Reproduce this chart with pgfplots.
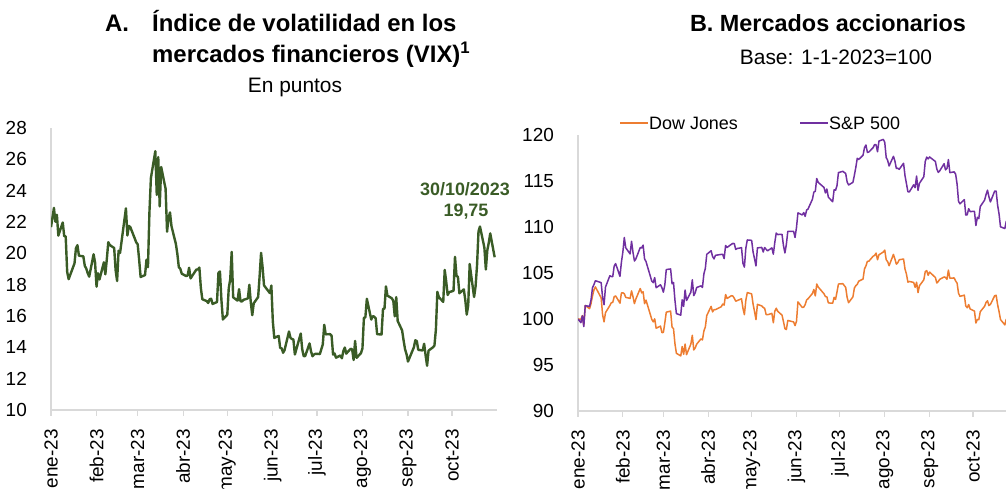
\documentclass[border=0pt]{standalone}
\usepackage{pgfplots}
\pgfplotsset{compat=1.18}
\usepackage{fontspec}
\setmainfont{Liberation Sans}
\definecolor{vixgreen}{RGB}{58,92,38}
\definecolor{djorange}{RGB}{237,125,49}
\definecolor{sppurple}{RGB}{112,48,160}
\definecolor{axgray}{RGB}{217,217,217}
\pgfplotsset{
  panel/.style={
    scale only axis,
    anchor=south west,
    axis x line*=bottom,
    axis y line*=left,
    axis line style={-, draw=axgray, line width=1.3bp},
    xtick={0,31,59,90,120,151,181,212,243,273},
    xticklabels={ene-23,feb-23,mar-23,abr-23,may-23,jun-23,jul-23,ago-23,sep-23,oct-23},
    xtick style={draw=axgray, line width=1.2bp},
    tick align=outside,
    major tick length=6bp,
    ytick style={draw=none},
    xticklabel style={font=\fontsize{19}{22}\selectfont, yshift=-13bp, rotate=90, anchor=east, inner sep=0pt},
    yticklabel style={font=\fontsize{19}{22}\selectfont, anchor=east, inner sep=0pt, xshift=-18bp},
    /pgf/number format/assume math mode=true,
    /pgf/number format/use comma,
  }
}
\begin{document}
\begin{tikzpicture}[x=1bp,y=1bp]
\useasboundingbox (0,0) rectangle (1006,489);
% ---------------- Panel A ----------------
\begin{axis}[panel,
  at={(51bp,79bp)}, width=446bp, height=282bp,
  xmin=0, xmax=303.6, ymin=10, ymax=28,
  ytick={10,12,...,28},
]
\addplot[vixgreen, line width=2.4bp, line join=round] coordinates {
(0,21.67)(2,22.90)(3,22.01)(4,22.46)(5,21.13)(8,21.97)(9,21.09)(10,21.09)(11,18.83)(12,18.35)
(16,19.36)(17,20.34)(18,20.52)(19,19.85)(22,19.81)(23,19.20)(24,19.03)(25,18.73)(26,18.51)
(29,19.94)(30,19.40)(31,17.87)(32,18.73)(33,18.33)(36,19.43)(37,18.66)(38,19.63)(39,20.71)
(40,20.53)(43,20.34)(44,18.91)(45,18.23)(46,20.17)(47,20.02)(51,22.87)(52,21.14)(53,21.75)
(54,21.67)(57,20.95)(58,20.70)(59,20.58)(60,19.59)(61,18.49)(64,18.61)(65,19.59)(66,19.11)
(67,22.61)(68,24.80)(71,26.52)(72,23.73)(73,26.14)(74,22.99)(75,25.51)(78,24.12)(79,21.38)
(80,22.26)(81,22.61)(82,21.74)(85,20.60)(86,19.97)(87,19.12)(88,19.02)(89,18.70)(92,18.55)
(93,18.58)(94,19.08)(95,18.40)(99,18.97)(100,18.97)(101,19.09)(102,17.80)(103,17.07)
(106,16.95)(107,16.83)(108,17.07)(109,17.10)(110,16.77)(113,16.89)(114,18.76)(115,18.84)
(116,17.03)(117,15.78)(120,16.08)(121,17.78)(122,18.34)(123,20.09)(124,17.19)(127,16.98)
(128,17.71)(129,16.94)(130,16.93)(131,17.03)(134,17.12)(135,17.99)(136,16.87)(137,16.05)
(138,16.81)(141,17.21)(142,18.53)(143,20.03)(144,19.14)(145,17.95)(149,17.46)(150,17.94)
(151,15.65)(152,14.60)(155,14.73)(156,13.96)(157,13.94)(158,13.65)(159,13.83)(162,15.01)
(163,14.61)(164,14.53)(165,14.50)(166,13.54)(170,14.88)(171,13.88)(172,13.44)(173,13.44)
(176,14.25)(177,13.74)(178,13.43)(179,13.54)(180,13.59)(183,13.57)(185,14.18)(186,15.44)
(187,14.83)(190,14.84)(191,14.74)(192,13.54)(193,13.61)(194,13.34)(197,13.48)(198,13.30)
(199,13.76)(200,13.99)(201,13.60)(204,13.91)(205,13.86)(206,13.19)(207,14.41)(208,13.33)
(211,13.63)(212,13.93)(213,15.88)(214,15.92)(215,17.10)(218,15.77)(219,15.99)(220,15.96)
(221,15.85)(222,14.84)(225,14.82)(226,16.46)(227,16.46)(228,17.89)(229,17.30)(232,17.13)
(233,16.97)(234,15.98)(235,17.20)(236,15.68)(239,15.08)(240,14.45)(241,13.88)(242,13.57)
(243,13.09)(247,14.00)(248,14.45)(249,14.40)(250,13.84)(253,13.80)(254,14.23)(255,13.48)
(256,12.82)(257,13.79)(260,14.00)(261,14.11)(262,15.14)(263,17.54)(264,17.20)(267,16.90)
(268,18.94)(269,18.22)(270,17.34)(271,17.52)(274,17.61)(275,19.78)(276,18.58)(277,18.49)
(278,17.45)(281,17.70)(282,17.03)(283,16.09)(284,16.69)(285,19.32)(288,17.21)(289,17.88)
(290,19.22)(291,21.40)(292,21.71)(295,20.37)(296,18.97)(297,20.19)(298,20.68)(299,21.27)
(302,19.75)
};
\end{axis}
% ---------------- Panel B ----------------
\begin{axis}[panel,
  at={(578bp,78bp)}, width=438.4bp, height=276bp,
  xmin=0, xmax=303, ymin=90, ymax=120,
  ytick={90,95,...,120},
]
\addplot[djorange, line width=1.5bp, line join=round] coordinates {
(0,100)(2,99.97)(3,100.37)(4,99.34)(5,101.46)(8,101.12)(9,101.68)(10,102.49)(11,103.15)(12,103.49)
(16,102.30)(17,100.45)(18,99.69)(19,100.69)(22,101.46)(23,101.77)(24,101.80)(25,102.42)(26,102.51)
(29,101.72)(30,102.83)(31,102.85)(32,102.74)(33,102.35)(36,102.24)(37,103.05)(38,102.42)(39,101.67)
(40,102.18)(43,103.31)(44,102.84)(45,102.96)(46,101.66)(47,102.05)(51,99.95)(52,99.69)(53,100.02)
(54,99.00)(57,99.22)(58,98.52)(59,98.54)(60,99.57)(61,100.74)(64,100.86)(65,99.12)(66,98.95)
(67,97.31)(68,96.27)(71,95.99)(72,97.01)(73,96.16)(74,97.28)(75,96.12)(78,97.28)(79,98.23)
(80,96.63)(81,96.86)(82,97.26)(85,97.84)(86,97.73)(87,98.70)(88,99.13)(89,100.38)(92,101.37)
(93,100.77)(94,101.01)(95,101.02)(99,101.33)(100,101.62)(101,101.51)(102,102.66)(103,102.23)
(106,102.53)(107,102.50)(108,102.26)(109,101.93)(110,102.00)(113,102.20)(114,101.16)(115,100.47)
(116,102.05)(117,102.87)(120,102.73)(121,101.62)(122,100.81)(123,99.94)(124,101.59)(127,101.42)
(128,101.25)(129,101.16)(130,100.49)(131,100.46)(134,100.61)(135,99.59)(136,100.83)(137,101.17)
(138,100.84)(141,100.42)(142,99.72)(143,98.95)(144,98.85)(145,99.84)(149,99.68)(150,99.28)
(151,99.74)(152,101.86)(155,101.25)(156,101.29)(157,101.56)(158,102.07)(159,102.20)(162,102.77)
(163,103.21)(164,102.51)(165,103.80)(166,103.48)(170,102.74)(171,102.43)(172,102.41)(173,101.75)
(176,101.71)(177,102.35)(178,102.13)(179,102.94)(180,103.80)(183,103.84)(185,103.44)(186,102.34)
(187,101.77)(190,102.40)(191,103.36)(192,103.62)(193,103.76)(194,104.11)(197,104.34)(198,105.44)
(199,105.77)(200,106.27)(201,106.28)(204,106.83)(205,106.91)(206,107.16)(207,106.44)(208,106.98)
(211,107.28)(212,107.49)(213,106.44)(214,106.24)(215,105.79)(218,107.02)(219,106.54)(220,105.96)
(221,106.12)(222,106.44)(225,106.52)(226,105.43)(227,104.88)(228,104.01)(229,104.08)(232,103.97)
(233,103.44)(234,104.00)(235,102.87)(236,103.62)(239,104.26)(240,105.15)(241,105.26)(242,104.75)
(243,105.10)(247,104.51)(248,103.91)(249,104.08)(250,104.31)(253,104.57)(254,104.52)(255,104.31)
(256,105.31)(257,104.44)(260,104.46)(261,104.13)(262,103.90)(263,102.79)(264,102.46)(267,102.59)
(268,101.42)(269,101.22)(270,101.57)(271,101.09)(274,100.86)(275,99.56)(276,99.95)(277,99.92)
(278,100.79)(281,101.38)(282,101.79)(283,101.98)(284,101.46)(285,101.58)(288,102.53)(289,102.57)
(290,101.56)(291,100.81)(292,99.94)(295,99.36)(296,99.98)(297,99.66)(298,98.90)(299,97.80)
(302,99.34)
};
\addplot[sppurple, line width=1.5bp, line join=round] coordinates {
(0,100)(2,99.60)(3,100.35)(4,99.18)(5,101.45)(8,101.37)(9,102.08)(10,103.39)(11,103.74)(12,104.16)
(16,103.95)(17,102.33)(18,101.55)(19,103.47)(22,104.70)(23,104.62)(24,104.60)(25,105.75)(26,106.02)
(29,104.64)(30,106.18)(31,107.28)(32,108.86)(33,107.74)(36,107.07)(37,108.45)(38,107.25)(39,106.30)
(40,106.54)(43,107.76)(44,107.73)(45,108.02)(46,106.53)(47,106.24)(51,104.11)(52,103.95)(53,104.50)
(54,103.40)(57,103.72)(58,103.40)(59,102.91)(60,103.69)(61,105.37)(64,105.44)(65,103.83)(66,103.97)
(67,102.05)(68,100.58)(71,100.42)(72,102.08)(73,101.37)(74,103.15)(75,102.01)(78,102.92)(79,104.26)
(80,102.54)(81,102.84)(82,103.42)(85,103.60)(86,103.43)(87,104.90)(88,105.50)(89,107.03)(92,107.42)
(93,106.80)(94,106.53)(95,106.92)(99,107.02)(100,107.02)(101,106.57)(102,107.99)(103,107.77)
(106,108.12)(107,108.21)(108,108.20)(109,107.56)(110,107.66)(113,107.75)(114,106.05)(115,105.64)
(116,107.71)(117,108.59)(120,108.55)(121,107.29)(122,106.54)(123,105.77)(124,107.73)(127,107.78)
(128,107.28)(129,107.77)(130,107.58)(131,107.41)(134,107.73)(135,107.04)(136,108.32)(137,109.34)
(138,109.18)(141,109.20)(142,107.97)(143,107.18)(144,108.12)(145,109.53)(149,109.53)(150,108.86)
(151,109.94)(152,111.53)(155,111.31)(156,111.57)(157,111.15)(158,111.84)(159,111.96)(162,113.01)
(163,113.79)(164,113.88)(165,115.27)(166,114.85)(170,114.30)(171,113.70)(172,114.13)(173,113.25)
(176,112.74)(177,114.04)(178,113.99)(179,114.50)(180,115.91)(183,116.05)(185,115.82)(186,114.90)
(187,114.57)(190,114.85)(191,115.62)(192,116.48)(193,117.46)(194,117.34)(197,117.80)(198,118.63)
(199,118.91)(200,118.11)(201,118.15)(204,118.63)(205,118.96)(206,118.94)(207,118.18)(208,119.34)
(211,119.52)(212,119.20)(213,117.55)(214,117.25)(215,116.63)(218,117.68)(219,117.19)(220,116.36)
(221,116.39)(222,116.27)(225,116.93)(226,115.58)(227,114.71)(228,113.83)(229,113.81)(232,114.59)
(233,114.27)(234,115.54)(235,113.98)(236,114.75)(239,115.47)(240,117.14)(241,117.59)(242,117.40)
(243,117.61)(247,117.12)(248,116.30)(249,115.93)(250,116.10)(253,116.88)(254,116.21)(255,116.36)
(256,117.33)(257,115.91)(260,115.99)(261,115.74)(262,114.66)(263,112.78)(264,112.52)(267,112.97)
(268,111.30)(269,111.33)(270,111.99)(271,111.68)(274,111.69)(275,110.16)(276,111.05)(277,110.91)
(278,112.22)(281,112.92)(282,113.51)(283,114.00)(284,113.29)(285,112.72)(288,113.91)(289,113.90)
(290,112.37)(291,111.42)(292,110.02)(295,109.83)(296,110.63)(297,109.04)(298,107.75)(299,107.24)
(302,108.53)
};
\end{axis}
% ---------------- Titles & annotations ----------------
\begin{scope}[every node/.style={inner sep=0pt}]
\node[anchor=base west, font=\fontsize{24}{27}\selectfont\bfseries] at (105,457) {A.};
\node[anchor=base west, font=\fontsize{24}{27}\selectfont\bfseries] at (152,457) {Índice de volatilidad en los};
\node[anchor=base west, font=\fontsize{24}{27}\selectfont\bfseries] at (152,426) {mercados financieros (VIX)\textsuperscript{1}};
\node[anchor=base, font=\fontsize{21}{24}\selectfont] at (295,396) {En puntos};
\node[anchor=base, font=\fontsize{23.5}{27}\selectfont\bfseries] at (828,457) {B. Mercados accionarios};
\node[anchor=base, font=\fontsize{21}{24}\selectfont] at (836,424) {Base: 1-1-2023=100};
\node[anchor=base, font=\fontsize{18}{21}\selectfont\bfseries, text=vixgreen] at (465,293) {30/10/2023};
\node[anchor=base, font=\fontsize{18}{21}\selectfont\bfseries, text=vixgreen] at (466,272) {19,75};
% legend
\draw[djorange, line width=1.5bp] (620,366) -- (648,366);
\node[anchor=west, font=\fontsize{18}{21}\selectfont] at (649,366) {Dow Jones};
\draw[sppurple, line width=1.5bp] (800,366) -- (828,366);
\node[anchor=west, font=\fontsize{18}{21}\selectfont] at (829,366) {S\&P 500};
\end{scope}
\end{tikzpicture}
\end{document}
